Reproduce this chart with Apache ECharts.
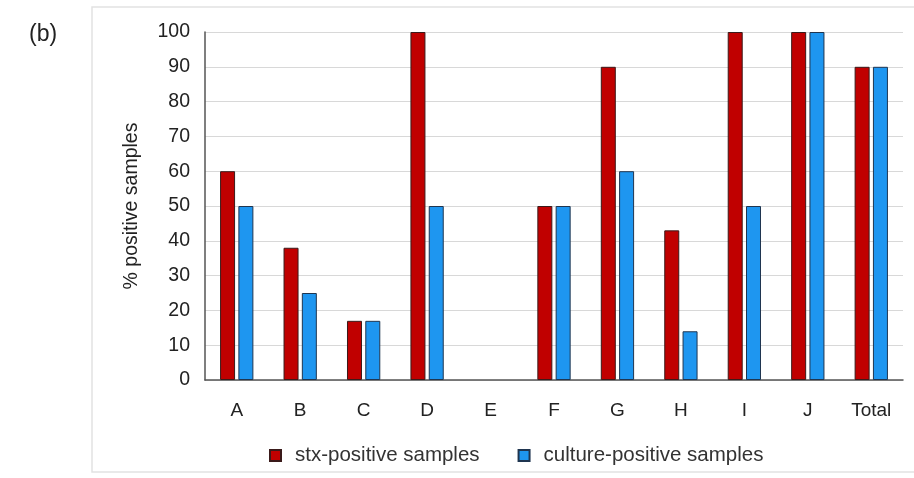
<!DOCTYPE html>
<html><head><meta charset="utf-8">
<script src="https://cdn.jsdelivr.net/npm/echarts@6/dist/echarts.min.js"></script>
<style>html,body{margin:0;padding:0;background:#fff}#c{width:914px;height:478px}</style>
</head><body><div id="c"></div>
<script>
const categories = ['A','B','C','D','E','F','G','H','I','J','Total'];
const stxPositive = [60, 38, 17, 100, 0, 50, 90, 43, 100, 100, 90];
const culturePositive = [50, 25, 17, 50, 0, 50, 60, 14, 50, 100, 90];
const yTicks = [0,10,20,30,40,50,60,70,80,90,100];

const chart = echarts.init(document.getElementById('c'));
const font = 'Liberation Sans, Arial, sans-serif';
const toData = arr => arr.map(v => v === 0 ? {value: v, itemStyle: {borderWidth: 0, opacity: 0}} : v);
chart.setOption({
  animation: false,
  backgroundColor: '#fff',
  graphic: [
    {type:'rect', shape:{x:92,y:7,width:830,height:465}, style:{fill:'none', stroke:'#e2e2e2', lineWidth:1.5}},
    {type:'text', left:29, top:23, style:{text:'(b)', font:'23px ' + font, fill:'#222'}}
  ],
  grid: {left:205, right:11, top:32, bottom:98},
  legend: {
    top: 440, left: 264, itemWidth: 11, itemHeight: 11, itemGap: 38,
    icon: 'rect',
    textStyle: {fontFamily: font, fontSize: 20.5, color: '#333', padding: [0,0,0,9]},
    data: ['stx-positive samples','culture-positive samples']
  },
  xAxis: {
    type: 'category', data: categories,
    axisLine: {lineStyle:{color:'#555', width:1.5}},
    axisTick: {show:false},
    axisLabel: {fontFamily: font, fontSize: 19, color:'#222', margin: 21}
  },
  yAxis: {
    type: 'value', min: 0, max: 100, interval: 10,
    name: '% positive samples', nameLocation: 'middle', nameGap: 63, nameRotate: 90,
    nameTextStyle: {fontFamily: font, fontSize: 19.5, color:'#222'},
    axisLine: {show:true, lineStyle:{color:'#555', width:1.5}},
    axisTick: {show:false},
    splitLine: {lineStyle:{color:'#d8d8d8', width:1.2}},
    axisLabel: {fontFamily: font, fontSize: 19.5, color:'#222', margin: 15,
      formatter: v => yTicks.includes(v) ? String(v) : ''}
  },
  series: [
    {name:'stx-positive samples', type:'bar', data: toData(stxPositive), barWidth: 15, barGap: '22%',
     itemStyle:{color:'#C00000', borderColor:'#3a1a1a', borderWidth:1}},
    {name:'culture-positive samples', type:'bar', data: toData(culturePositive), barWidth: 15,
     itemStyle:{color:'#1E96F0', borderColor:'#1f3550', borderWidth:1}}
  ]
});
</script></body></html>
